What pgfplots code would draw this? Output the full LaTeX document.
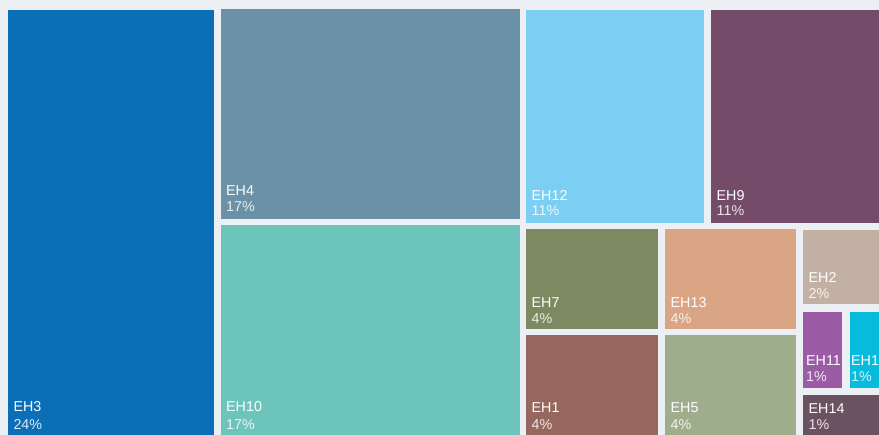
\documentclass[border=0pt]{standalone}
\usepackage{pgfplots}
\pgfplotsset{compat=1.18}
\usepackage{fontspec}
\setmainfont{Liberation Sans}
\definecolor{bgc}{HTML}{ECEFF3}
\definecolor{cEHiii}{HTML}{0B6FB8}
\definecolor{cEHiv}{HTML}{6B91A6}
\definecolor{cEHx}{HTML}{6CC4BA}
\definecolor{cEHxii}{HTML}{7DCEF3}
\definecolor{cEHix}{HTML}{744C69}
\definecolor{cEHvii}{HTML}{7B8A60}
\definecolor{cEHxiii}{HTML}{D9A585}
\definecolor{cEHi}{HTML}{96685D}
\definecolor{cEHv}{HTML}{9EAD8B}
\definecolor{cEHii}{HTML}{C1B0A3}
\definecolor{cEHxi}{HTML}{9B5BA5}
\definecolor{cEHxv}{HTML}{06BBDB}
\definecolor{cEHxiv}{HTML}{6B5260}
\begin{document}
\begin{tikzpicture}[
  nm/.style={anchor=base west, inner sep=0pt, text=white, font=\fontsize{14.3}{16}\selectfont},
  pc/.style={anchor=base west, inner sep=0pt, text=white, text opacity=0.85, font=\fontsize{14.3}{16}\selectfont}]
\begin{axis}[width=879pt, height=435pt, scale only axis,
  xmin=0, xmax=879, ymin=0, ymax=435, y dir=reverse, hide axis]
% background
\addplot[fill=bgc, draw=none] coordinates {(-5,-5) (890,-5) (890,445) (-5,445)} -- cycle;
% rectangles: x1 y1 x2 y2
\addplot[fill=cEHiii, draw=none] coordinates {(8,10) (214,10) (214,440) (8,440)} -- cycle;
\addplot[fill=cEHiv, draw=none] coordinates {(221,9) (520,9) (520,218.7) (221,218.7)} -- cycle;
\addplot[fill=cEHx, draw=none] coordinates {(221,225) (520,225) (520,440) (221,440)} -- cycle;
\addplot[fill=cEHxii, draw=none] coordinates {(526,10) (704,10) (704,222.7) (526,222.7)} -- cycle;
\addplot[fill=cEHix, draw=none] coordinates {(711,10) (885,10) (885,222.7) (711,222.7)} -- cycle;
\addplot[fill=cEHvii, draw=none] coordinates {(526,229) (657.7,229) (657.7,328.7) (526,328.7)} -- cycle;
\addplot[fill=cEHxiii, draw=none] coordinates {(665,229) (796,229) (796,328.7) (665,328.7)} -- cycle;
\addplot[fill=cEHi, draw=none] coordinates {(526,335) (657.7,335) (657.7,440) (526,440)} -- cycle;
\addplot[fill=cEHv, draw=none] coordinates {(665,335) (796,335) (796,440) (665,440)} -- cycle;
\addplot[fill=cEHii, draw=none] coordinates {(803,230) (885,230) (885,304.3) (803,304.3)} -- cycle;
\addplot[fill=cEHxi, draw=none] coordinates {(803,312) (842,312) (842,387.7) (803,387.7)} -- cycle;
\addplot[fill=cEHxv, draw=none] coordinates {(850,312) (885,312) (885,387.7) (850,387.7)} -- cycle;
\addplot[fill=cEHxiv, draw=none] coordinates {(803,395) (885,395) (885,440) (803,440)} -- cycle;
% labels
\node[nm] at (axis cs:13.3,411.7) {EH3};  \node[pc] at (axis cs:13.3,429.3) {24\%};
\node[nm] at (axis cs:226,196) {EH4};     \node[pc] at (axis cs:226,211.7) {17\%};
\node[nm] at (axis cs:226,411.7) {EH10};  \node[pc] at (axis cs:226,429.3) {17\%};
\node[nm] at (axis cs:531.5,201) {EH12};  \node[pc] at (axis cs:531.5,216) {11\%};
\node[nm] at (axis cs:716.5,201) {EH9};   \node[pc] at (axis cs:716.5,216) {11\%};
\node[nm] at (axis cs:531.5,307.3) {EH7}; \node[pc] at (axis cs:531.5,324) {4\%};
\node[nm] at (axis cs:670.5,307.3) {EH13};\node[pc] at (axis cs:670.5,324) {4\%};
\node[nm] at (axis cs:531.5,412.3) {EH1}; \node[pc] at (axis cs:531.5,430) {4\%};
\node[nm] at (axis cs:670.5,412.3) {EH5}; \node[pc] at (axis cs:670.5,430) {4\%};
\node[nm] at (axis cs:808.5,282.5) {EH2}; \node[pc] at (axis cs:808.5,298.3) {2\%};
\node[nm] at (axis cs:806,366) {EH11};    \node[pc] at (axis cs:806,381.7) {1\%};
\node[nm] at (axis cs:851,366) {EH15};    \node[pc] at (axis cs:851,381.7) {1\%};
\node[nm] at (axis cs:808.5,414) {EH14};  \node[pc] at (axis cs:808.5,430) {1\%};
\end{axis}
\pgfresetboundingbox
\path[use as bounding box] (0,0) rectangle (879pt,435pt);
\end{tikzpicture}
\end{document}
